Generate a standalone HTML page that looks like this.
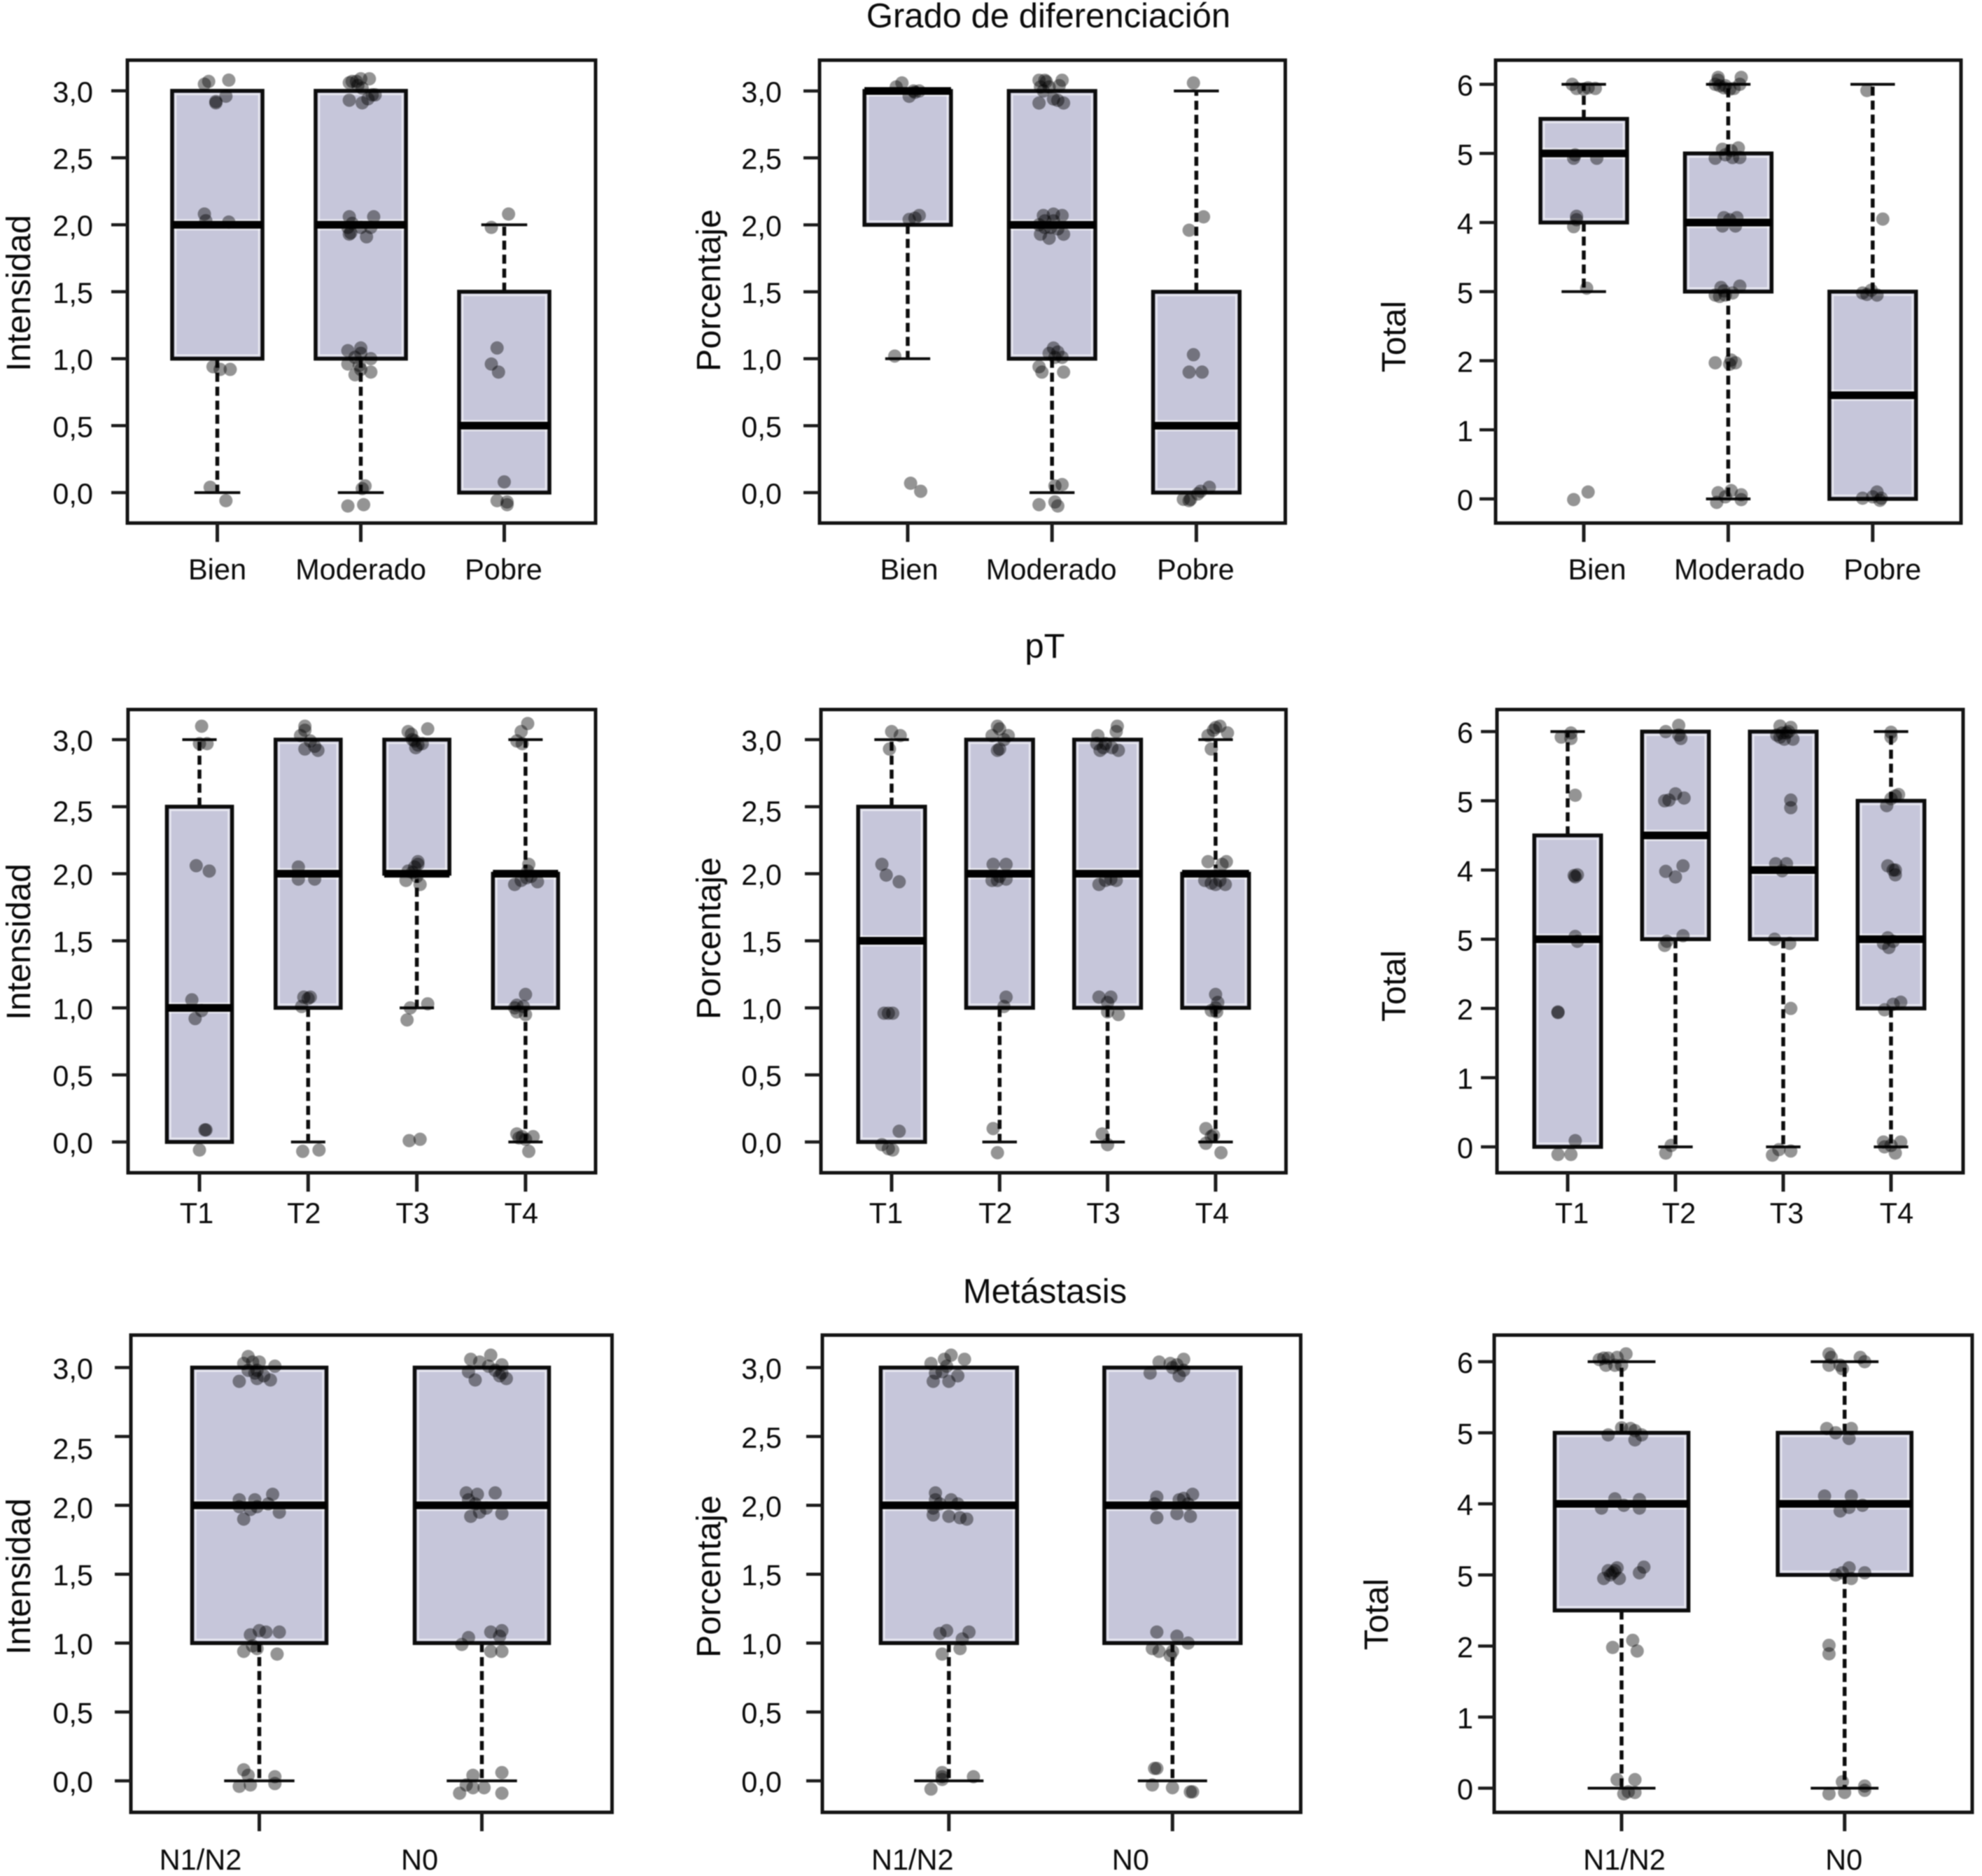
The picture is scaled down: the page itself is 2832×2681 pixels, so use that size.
<!DOCTYPE html>
<html lang="es">
<head>
<meta charset="utf-8">
<title>Grado de diferenciación, pT y Metástasis</title>
<style>
html,body{margin:0;padding:0;background:#fff;}
body{width:2832px;height:2681px;overflow:hidden;}
svg{display:block;filter:blur(0.9px);}
text{font-family:"Liberation Sans",sans-serif;fill:#0a0a0a;}
</style>
</head>
<body>
<svg id="fig" xmlns="http://www.w3.org/2000/svg" width="2832" height="2681" viewBox="0 0 2832 2681">
<rect x="0" y="0" width="2832" height="2681" fill="#fff"/>
<text x="1498" y="39" font-size="49" text-anchor="middle">Grado de diferenciación</text>
<text x="1493" y="940" font-size="49" text-anchor="middle">pT</text>
<text x="1493" y="1862" font-size="49" text-anchor="middle">Metástasis</text>
</svg>
<script>
// ---- shared axis data ----
const ticks3 = [0, 0.5, 1, 1.5, 2, 2.5, 3];
const tickLabels3 = ["0,0", "0,5", "1,0", "1,5", "2,0", "2,5", "3,0"];
const ticks6 = [0, 1, 2, 3, 4, 5, 6];
const tickLabels6 = ["0", "1", "2", "5", "4", "5", "6"];
const gradoCategories = ["Bien", "Moderado", "Pobre"];
const ptCategories = ["T1", "T2", "T3", "T4"];
const metaCategories = ["N1/N2", "N0"];

// ---- Grado / Intensidad ----
const gi_q1 = [1, 1, 0];
const gi_med = [2, 2, 0.5];
const gi_q3 = [3, 3, 1.5];
const gi_lo = [0, 0, 0];
const gi_hi = [3, 3, 2];
const gi_pts = [[0,-.06,3.07],[0,-.09,3.05],[0,.08,3.08],[0,.06,2.96],[0,-.01,2.92],[0,-.01,2.91],[0,-.09,2.08],[0,-.08,2.03],[0,.08,2.02],[0,-.03,.94],[0,.02,.92],[0,.09,.92],[0,-.05,.04],[0,.06,-.06],
[1,-.08,3.06],[1,-.06,3.07],[1,-.03,3.07],[1,0,3.09],[1,-.02,3.04],[1,.06,3.09],[1,.01,3.02],[1,-.08,2.93],[1,.01,2.91],[1,.05,2.94],[1,.08,2.97],[1,.10,2.97],[1,-.08,2.06],[1,.09,2.06],[1,-.09,1.98],[1,-.06,2.01],[1,-.07,1.94],[1,-.08,1.93],[1,.04,1.91],[1,.07,1.98],[1,0,1.98],[1,-.09,1.06],[1,0,1.08],[1,0,1.04],[1,-.04,1.01],[1,.07,1.0],[1,-.09,.96],[1,-.01,.95],[1,-.04,.88],[1,.07,.90],[1,0,.92],[1,.03,.05],[1,.01,.03],[1,-.09,-.10],[1,.02,-.09],
[2,.03,2.08],[2,-.09,1.98],[2,-.05,1.08],[2,-.09,.96],[2,-.04,.90],[2,0,.08],[2,-.05,-.06],[2,.02,-.07],[2,.02,-.09]];

// ---- Grado / Porcentaje ----
const gp_q1 = [2, 1, 0];
const gp_med = [3, 2, 0.5];
const gp_q3 = [3, 3, 1.5];
const gp_lo = [1, 0, 0];
const gp_hi = [3, 3, 3];
const gp_pts = [[0,-.04,3.06],[0,-.08,3.03],[0,.01,2.96],[0,.08,3.0],[0,.04,3.0],[0,.05,2.99],[0,.08,2.07],[0,.05,2.05],[0,.01,2.04],[0,-.09,1.02],[0,.02,.07],[0,.09,.01],
[1,-.09,3.08],[1,-.05,3.08],[1,-.04,3.07],[1,.07,3.08],[1,-.08,3.03],[1,-.02,3.03],[1,.05,3.04],[1,-.09,2.91],[1,.01,2.94],[1,.04,2.93],[1,.08,2.91],[1,-.06,3.0],[1,-.06,2.07],[1,.01,2.08],[1,.07,2.07],[1,-.09,2.0],[1,-.05,1.98],[1,-.01,1.98],[1,.04,1.97],[1,.08,1.93],[1,-.08,1.93],[1,-.02,1.90],[1,-.05,2.03],[1,.01,2.03],[1,.01,1.08],[1,.04,1.05],[1,-.02,1.04],[1,.02,1.01],[1,.07,1.01],[1,-.09,.94],[1,-.07,.90],[1,.08,.90],[1,.02,.05],[1,.07,.06],[1,-.09,-.09],[1,.04,-.10],[1,.02,-.07],
[2,-.02,3.06],[2,.05,2.06],[2,-.05,1.96],[2,-.02,1.03],[2,-.05,.90],[2,.04,.90],[2,.09,.04],[2,.03,.01],[2,-.04,-.05],[2,-.09,-.05],[2,.01,-.01],[2,-.05,-.06]];

// ---- Grado / Total ----
const gt_q1 = [4, 3, 0];
const gt_med = [5, 4, 1.5];
const gt_q3 = [5.5, 5, 3];
const gt_lo = [3, 0, 0];
const gt_hi = [6, 6, 6];
const gt_pts = [[0,-.08,6.0],[0,-.05,5.94],[0,0,5.93],[0,.08,5.94],[0,.03,5.95],[0,-.06,4.98],[0,-.07,4.93],[0,.09,4.93],[0,-.05,4.09],[0,-.05,4.04],[0,-.07,3.94],[0,.02,3.05],[0,-.07,-.01],[0,.03,.10],
[1,-.07,6.1],[1,.09,6.1],[1,-.09,6],[1,-.06,5.98],[1,-.03,5.95],[1,.01,5.93],[1,.04,5.94],[1,.08,6],[1,-.07,6.06],[1,-.02,5.98],[1,-.04,5.06],[1,.07,5.08],[1,-.09,4.93],[1,.02,5.04],[1,.03,4.94],[1,.08,4.94],[1,-.02,4.98],[1,-.03,4.07],[1,.06,4.07],[1,-.04,3.95],[1,.05,3.95],[1,.01,4.04],[1,-.05,3.06],[1,.08,3.08],[1,-.06,2.93],[1,-.02,2.95],[1,.03,2.98],[1,-.09,2.95],[1,-.03,3.01],[1,-.09,1.97],[1,.02,2.01],[1,.05,1.97],[1,.01,1.95],[1,-.07,.09],[1,.02,.12],[1,.09,.06],[1,-.08,-.05],[1,-.02,.03],[1,.09,-.01],
[2,-.04,5.91],[2,.07,4.05],[2,-.07,2.98],[2,-.04,2.96],[2,.03,2.95],[2,-.01,3.02],[2,-.07,.01],[2,.03,.10],[2,.06,.01],[2,0,.03],[2,.05,-.02]];

// ---- pT / Intensidad ----
const ti_q1 = [0, 1, 2, 1];
const ti_med = [1, 2, 2, 2];
const ti_q3 = [2.5, 3, 3, 2];
const ti_lo = [0, 0, 1, 0];
const ti_hi = [3, 3, 3, 3];
const ti_pts = [[0,.02,3.10],[0,0,2.97],[0,.07,2.97],[0,-.03,2.06],[0,.09,2.02],[0,-.07,1.06],[0,-.04,.92],[0,.02,.98],[0,.05,.09],[0,.06,.09],[0,0,-.06],
[1,-.03,3.10],[1,-.03,3.07],[1,-.07,3.03],[1,-.03,2.93],[1,.09,2.92],[1,.06,2.95],[1,.02,2.99],[1,-.09,2.05],[1,-.09,1.96],[1,.06,1.96],[1,-.04,1.08],[1,.02,1.08],[1,-.06,1.01],[1,0,1.07],[1,-.05,-.07],[1,.10,-.06],
[2,-.08,3.06],[2,-.05,3.04],[2,.10,3.08],[2,-.04,3.0],[2,.01,2.96],[2,-.01,2.94],[2,.05,2.97],[2,-.02,2.99],[2,.01,2.09],[2,-.02,2.05],[2,-.08,2.02],[2,-.04,2.01],[2,-.10,1.95],[2,.03,1.92],[2,0,1.98],[2,.01,2.07],[2,.10,1.03],[2,-.06,1.0],[2,-.09,.91],[2,-.07,.01],[2,.03,.02],
[3,.02,3.12],[3,-.04,3.06],[3,-.08,2.99],[3,-.03,2.97],[3,.03,2.07],[3,.02,2.02],[3,-.10,1.92],[3,-.04,1.95],[3,.11,1.94],[3,.01,1.97],[3,.05,1.98],[3,0,1.10],[3,-.08,1.02],[3,-.02,1.01],[3,-.08,.97],[3,0,.95],[3,-.10,1.0],[3,-.08,.06],[3,-.03,.04],[3,.07,.04],[3,0,.02],[3,.03,-.07],[3,-.06,.03]];

// ---- pT / Porcentaje ----
const tp_q1 = [0, 1, 1, 1];
const tp_med = [1.5, 2, 2, 2];
const tp_q3 = [2.5, 3, 3, 2];
const tp_lo = [0, 0, 0, 0];
const tp_hi = [3, 3, 3, 3];
const tp_pts = [[0,0,3.06],[0,.08,3.03],[0,-.02,2.93],[0,-.09,2.07],[0,-.05,1.99],[0,.07,1.94],[0,-.07,.96],[0,.01,.96],[0,-.03,.96],[0,.07,.08],[0,-.09,-.02],[0,-.03,-.05],[0,.01,-.06],
[1,-.02,3.10],[1,0,3.08],[1,-.07,3.03],[1,.08,3.03],[1,.04,3.0],[1,-.02,2.92],[1,0,2.93],[1,-.06,2.07],[1,.06,2.07],[1,-.07,1.95],[1,-.02,1.95],[1,.06,1.96],[1,0,1.98],[1,.06,1.08],[1,.04,1.01],[1,-.06,.10],[1,-.02,-.08],
[2,.09,3.10],[2,.08,3.06],[2,-.09,3.03],[2,-.10,2.97],[2,-.04,2.94],[2,-.07,2.92],[2,.04,2.94],[2,.10,2.92],[2,-.02,2.97],[2,-.08,1.92],[2,-.02,1.95],[2,.08,1.95],[2,.03,1.96],[2,-.08,1.08],[2,.03,1.08],[2,0,1.04],[2,.10,.95],[2,0,.97],[2,-.05,.06],[2,0,-.02],
[3,0,3.09],[3,.04,3.10],[3,-.02,3.07],[3,.11,3.05],[3,-.04,2.93],[3,-.07,3.03],[3,-.07,2.09],[3,.10,2.09],[3,.06,2.07],[3,-.10,1.95],[3,0,1.92],[3,.09,1.92],[3,-.04,1.93],[3,.04,1.95],[3,0,1.10],[3,.02,1.04],[3,0,1.0],[3,-.04,.98],[3,.01,.97],[3,-.09,.10],[3,-.04,.04],[3,-.09,-.01],[3,-.02,.05],[3,.05,-.08]];

// ---- pT / Total ----
const tt_q1 = [0, 3, 3, 2];
const tt_med = [3, 4.5, 4, 3];
const tt_q3 = [4.5, 6, 6, 5];
const tt_lo = [0, 0, 0, 0];
const tt_hi = [6, 6, 6, 6];
const tt_pts = [[0,.03,5.98],[0,-.06,5.92],[0,.03,5.90],[0,.07,5.08],[0,.06,3.92],[0,.09,3.93],[0,.07,3.90],[0,.07,3.04],[0,.09,2.97],[0,-.09,1.94],[0,-.09,1.95],[0,.07,.09],[0,-.09,-.11],[0,.03,-.11],
[1,.03,6.09],[1,-.09,6.0],[1,.03,5.95],[1,.05,5.90],[1,-.10,5.0],[1,-.06,5.01],[1,0,5.10],[1,.08,5.04],[1,-.09,3.98],[1,0,3.90],[1,.07,4.06],[1,-.10,2.91],[1,-.08,2.97],[1,.07,3.05],[1,-.04,.02],[1,-.09,-.09],
[2,-.03,6.08],[2,.07,6.06],[2,-.06,5.95],[2,.01,5.89],[2,.09,5.89],[2,.03,5.98],[2,-.01,5.98],[2,.05,6.0],[2,-.03,5.92],[2,.07,5.01],[2,.07,4.90],[2,-.07,4.09],[2,.03,4.09],[2,-.01,3.99],[2,-.08,3.0],[2,.06,2.94],[2,.07,2.0],[2,-.10,-.12],[2,.07,-.06],[2,-.04,-.04],
[3,0,5.99],[3,0,5.92],[3,.07,5.09],[3,.04,5.07],[3,0,5.03],[3,-.04,4.93],[3,-.03,4.06],[3,.02,4.0],[3,.04,3.93],[3,.04,4.0],[3,-.03,3.02],[3,-.07,2.94],[3,-.02,2.88],[3,.02,2.97],[3,.09,2.09],[3,.02,2.06],[3,-.06,1.98],[3,-.07,.07],[3,.09,.07],[3,0,.02],[3,.04,-.09],[3,-.06,0]];

// ---- Metástasis / Intensidad ----
const mi_q1 = [1, 1];
const mi_med = [2, 2];
const mi_q3 = [3, 3];
const mi_lo = [0, 0];
const mi_hi = [3, 3];
const mi_pts = [[0,-.05,3.08],[0,-.03,3.04],[0,0,3.04],[0,-.07,3.03],[0,.07,3.01],[0,-.02,2.96],[0,.02,2.94],[0,-.09,2.90],[0,-.01,2.92],[0,.05,2.91],[0,-.05,2.98],[0,-.01,2.98],[0,-.09,2.04],[0,-.02,2.04],[0,.06,2.08],[0,-.09,1.99],[0,-.04,1.97],[0,-.07,1.90],[0,.09,1.95],[0,.04,2.01],[0,-.01,1.99],[0,0,1.09],[0,-.04,1.06],[0,.03,1.08],[0,.09,1.08],[0,-.03,.98],[0,-.07,.94],[0,.08,.92],[0,-.01,.96],[0,-.07,.08],[0,-.05,.04],[0,.07,.03],[0,-.09,-.04],[0,-.04,-.03],[0,.07,-.02],
[1,.04,3.09],[1,-.05,3.06],[1,-.01,3.04],[1,.09,3.02],[1,.03,3.01],[1,-.06,2.97],[1,-.03,2.91],[1,.06,2.98],[1,.08,2.94],[1,.11,2.92],[1,.09,2.96],[1,-.07,2.09],[1,-.02,2.08],[1,.06,2.09],[1,-.06,2.04],[1,-.05,1.92],[1,-.01,1.95],[1,.09,1.94],[1,-.03,2.01],[1,.02,1.98],[1,.09,1.09],[1,.04,1.08],[1,-.06,1.04],[1,.08,1.05],[1,-.09,.99],[1,.04,.94],[1,.09,.94],[1,.09,.06],[1,-.04,.04],[1,-.07,-.03],[1,-.04,-.05],[1,.01,-.05],[1,-.10,-.09],[1,.09,-.09]];

// ---- Metástasis / Porcentaje ----
const mp_q1 = [1, 1];
const mp_med = [2, 2];
const mp_q3 = [3, 3];
const mp_lo = [0, 0];
const mp_hi = [3, 3];
const mp_pts = [[0,.01,3.09],[0,.07,3.06],[0,-.02,3.06],[0,-.08,3.03],[0,-.01,3.01],[0,-.06,2.96],[0,-.07,2.90],[0,0,2.90],[0,.04,2.94],[0,-.03,2.97],[0,-.06,2.09],[0,-.06,2.04],[0,.01,2.04],[0,-.07,1.98],[0,-.07,1.93],[0,0,1.92],[0,.05,1.91],[0,.08,1.90],[0,.04,2.01],[0,-.04,2.01],[0,-.01,1.09],[0,-.04,1.07],[0,.09,1.08],[0,.06,1.03],[0,-.03,.92],[0,.05,.96],[0,-.03,.06],[0,-.03,.03],[0,-.03,.01],[0,.11,.03],[0,-.08,-.06],
[1,.05,3.06],[1,-.06,3.04],[1,-.01,3.03],[1,.02,3.02],[1,-.10,2.96],[1,0,3.0],[1,.03,2.94],[1,.05,2.98],[1,-.07,2.06],[1,.09,2.08],[1,.05,2.05],[1,.03,2.04],[1,.07,2.01],[1,-.07,1.91],[1,.02,1.94],[1,.08,1.92],[1,-.08,2.01],[1,-.07,1.08],[1,.02,1.05],[1,.07,1.0],[1,-.09,.96],[1,-.06,.94],[1,-.01,.91],[1,0,.94],[1,-.08,.09],[1,-.09,-.03],[1,0,-.05],[1,.08,-.08],[1,.09,-.08],[1,-.07,.09]];

// ---- Metástasis / Total ----
const mt_q1 = [2.5, 3];
const mt_med = [4, 4];
const mt_q3 = [5, 5];
const mt_lo = [0, 0];
const mt_hi = [6, 6];
const mt_pts = [[0,.02,6.11],[0,-.08,6.05],[0,-.06,6.05],[0,-.02,6.06],[0,-.07,5.95],[0,-.03,5.95],[0,0,5.95],[0,-.10,6.03],[0,-.06,4.97],[0,0,5.07],[0,.06,5.03],[0,.09,4.97],[0,.06,4.90],[0,.04,5.06],[0,-.03,4.07],[0,-.09,3.94],[0,.01,3.98],[0,.08,3.94],[0,.08,4.06],[0,-.02,3.10],[0,-.06,3.06],[0,-.04,3.03],[0,-.08,2.95],[0,-.01,2.95],[0,.10,3.11],[0,.08,3.03],[0,-.03,3.06],[0,-.05,3.0],[0,.05,2.08],[0,-.04,1.98],[0,.07,1.93],[0,-.02,.12],[0,.06,.12],[0,.03,-.05],[0,.06,-.06],[0,.01,-.08],
[1,-.07,6.11],[1,-.06,6.06],[1,.07,6.06],[1,-.07,5.95],[1,-.02,5.95],[1,-.01,5.90],[1,.09,6.0],[1,-.08,5.06],[1,.03,5.06],[1,-.04,5.0],[1,.02,4.92],[1,-.09,4.11],[1,.03,4.11],[1,-.02,3.90],[1,.08,3.98],[1,.02,3.95],[1,.02,3.10],[1,-.04,3.0],[1,.09,3.03],[1,.03,2.95],[1,-.01,3.03],[1,-.07,2.01],[1,-.07,1.89],[1,-.01,.09],[1,.09,.03],[1,-.07,-.08],[1,0,-.06],[1,.09,-.03]];

// ---- layout (pixels), kept apart from the data ----
const panels = [
  {id:"grado-intensidad", title:"Intensidad", cats:gradoCategories, tv:ticks3, tl:tickLabels3, yMax:3, frame:[182,86,851,747.5], x0:310.5, step:205, yTop:129.8, yZero:704, boxHalf:.315, capHalf:.16, q1:gi_q1, med:gi_med, q3:gi_q3, lo:gi_lo, hi:gi_hi, pts:gi_pts, labelRight:133, titleX:43, titleY:419, xBase:828, labelDx:[0,0,-1], nudge:{}},
  {id:"grado-porcentaje", title:"Porcentaje", cats:gradoCategories, tv:ticks3, tl:tickLabels3, yMax:3, frame:[1171,86,1836.5,747.5], x0:1297, step:206.2, yTop:130, yZero:704, boxHalf:.30, capHalf:.156, q1:gp_q1, med:gp_med, q3:gp_q3, lo:gp_lo, hi:gp_hi, pts:gp_pts, labelRight:1117, titleX:1029, titleY:415, xBase:828, labelDx:[2,-1,-1], nudge:{}},
  {id:"grado-total", title:"Total", cats:gradoCategories, tv:ticks6, tl:tickLabels6, yMax:6, frame:[2137,86,2802,747.5], x0:2263, step:206.4, yTop:120.5, yZero:713, boxHalf:.30, capHalf:.154, q1:gt_q1, med:gt_med, q3:gt_q3, lo:gt_lo, hi:gt_hi, pts:gt_pts, labelRight:2105, titleX:2008, titleY:481, xBase:828, labelDx:[19,16,14], nudge:{}},
  {id:"pt-intensidad", title:"Intensidad", cats:ptCategories, tv:ticks3, tl:tickLabels3, yMax:3, frame:[183,1014,851,1676], x0:285, step:155.3, yTop:1057, yZero:1632, boxHalf:.30, capHalf:.158, q1:ti_q1, med:ti_med, q3:ti_q3, lo:ti_lo, hi:ti_hi, pts:ti_pts, labelRight:133, titleX:43, titleY:1346, xBase:1748, labelDx:[-4,-6,-6,-6], nudge:{"2.5":5}},
  {id:"pt-porcentaje", title:"Porcentaje", cats:ptCategories, tv:ticks3, tl:tickLabels3, yMax:3, frame:[1173,1014,1837.5,1676], x0:1274, step:154.3, yTop:1057, yZero:1632, boxHalf:.31, capHalf:.16, q1:tp_q1, med:tp_med, q3:tp_q3, lo:tp_lo, hi:tp_hi, pts:tp_pts, labelRight:1117, titleX:1029, titleY:1341, xBase:1748, labelDx:[-8,-6,-6,-5], nudge:{"2.5":5}},
  {id:"pt-total", title:"Total", cats:ptCategories, tv:ticks6, tl:tickLabels6, yMax:6, frame:[2139,1014,2805,1676], x0:2240, step:154, yTop:1045.5, yZero:1639, boxHalf:.31, capHalf:.16, q1:tt_q1, med:tt_med, q3:tt_q3, lo:tt_lo, hi:tt_hi, pts:tt_pts, labelRight:2105, titleX:2008, titleY:1409, xBase:1748, labelDx:[6,5,5,8], nudge:{}},
  {id:"metastasis-intensidad", title:"Intensidad", cats:metaCategories, tv:ticks3, tl:tickLabels3, yMax:3, frame:[187,1908,874.5,2590], x0:370.5, step:318, yTop:1954.4, yZero:2545, boxHalf:.302, capHalf:.158, q1:mi_q1, med:mi_med, q3:mi_q3, lo:mi_lo, hi:mi_hi, pts:mi_pts, labelRight:133, titleX:43, titleY:2253, xBase:2672, labelDx:[-84,-89], nudge:{"2.5":16,"2":2}},
  {id:"metastasis-porcentaje", title:"Porcentaje", cats:metaCategories, tv:ticks3, tl:tickLabels3, yMax:3, frame:[1175,1908,1858.5,2590], x0:1355.8, step:319.5, yTop:1954.4, yZero:2545, boxHalf:.305, capHalf:.155, q1:mp_q1, med:mp_med, q3:mp_q3, lo:mp_lo, hi:mp_hi, pts:mp_pts, labelRight:1117, titleX:1029, titleY:2253, xBase:2672, labelDx:[-52,-60], nudge:{}},
  {id:"metastasis-total", title:"Total", cats:metaCategories, tv:ticks6, tl:tickLabels6, yMax:6, frame:[2135,1908,2818,2590], x0:2317, step:318.7, yTop:1946, yZero:2555.5, boxHalf:.30, capHalf:.152, q1:mt_q1, med:mt_med, q3:mt_q3, lo:mt_lo, hi:mt_hi, pts:mt_pts, labelRight:2105, titleX:1983, titleY:2307, xBase:2672, labelDx:[4,-1], nudge:{}}
];

const NS = "http://www.w3.org/2000/svg";
const fig = document.getElementById("fig");
const INK = "#0c0c0c";

function mk(tag, attrs, parent) {
  const el = document.createElementNS(NS, tag);
  for (const k in attrs) el.setAttribute(k, attrs[k]);
  parent.appendChild(el);
  return el;
}

function drawPanel(p) {
  const xAt = function (pos) { return p.x0 + pos * p.step; };
  const yAt = function (v) { return p.yZero - v * (p.yZero - p.yTop) / p.yMax; };
  const g = mk("g", {}, fig);
  
  

  const frame = mk("rect", {x:p.frame[0], y:p.frame[1], width:p.frame[2]-p.frame[0], height:p.frame[3]-p.frame[1], fill:"#fff", stroke:"#141414", "stroke-width":5}, g);
  
  

  // y axis
  p.tv.forEach(function (v, i) {
    const y = yAt(v);
    const tick = mk("line", {x1:p.frame[0]-23, x2:p.frame[0], y1:y, y2:y, stroke:"#1c1c1c", "stroke-width":4.5}, g);
    
    
    const extra = p.nudge[String(v)] || 0;
    const label = mk("text", {x:p.labelRight, y:y + 16 + extra, "font-size":41.5, "text-anchor":"end"}, g);
    label.textContent = p.tl[i];
    
    
  });

  const yTitle = mk("text", {x:p.titleX, y:p.titleY, "font-size":48.5, "text-anchor":"middle", transform:"rotate(-90 " + p.titleX + " " + p.titleY + ")"}, g);
  yTitle.textContent = p.title;
  
  

  // x axis
  p.cats.forEach(function (c, i) {
    const x = xAt(i);
    const tick = mk("line", {x1:x, x2:x, y1:p.frame[3], y2:p.frame[3]+27, stroke:"#1c1c1c", "stroke-width":5}, g);
    
    
    const label = mk("text", {x:x + p.labelDx[i], y:p.xBase, "font-size":41.5, "text-anchor":"middle"}, g);
    label.textContent = c;
    
    
  });

  // boxes
  p.cats.forEach(function (c, i) {
    const cx = xAt(i);
    const left = xAt(i - p.boxHalf);
    const right = xAt(i + p.boxHalf);
    const capL = xAt(i - p.capHalf);
    const capR = xAt(i + p.capHalf);
    const top = yAt(p.q3[i]);
    const bottom = yAt(p.q1[i]);
    const medY = yAt(p.med[i]);
    const bg = mk("g", {}, g);
    
    

    [[p.hi[i], top], [p.lo[i], bottom]].forEach(function (w) {
      const wy = yAt(w[0]);
      if (Math.abs(wy - w[1]) > 0.5) {
        const whisker = mk("line", {x1:cx, x2:cx, y1:w[1], y2:wy, stroke:INK, "stroke-width":5.5, "stroke-dasharray":"13 7"}, bg);
        
        
      }
      const cap = mk("line", {x1:capL, x2:capR, y1:wy, y2:wy, stroke:INK, "stroke-width":4}, bg);
      
      
    });

    const rect = mk("rect", {x:left, y:top, width:right-left, height:bottom-top, fill:"#c6c6da"}, bg);
    
    
    const halo = mk("rect", {x:left+5, y:top+5, width:right-left-10, height:bottom-top-10, fill:"none", stroke:"#fff", "stroke-opacity":.6, "stroke-width":2.5}, bg);
    
    
    const medHalo = mk("line", {x1:left, x2:right, y1:medY, y2:medY, stroke:"#fff", "stroke-opacity":.6, "stroke-width":16}, bg);
    
    
    const outline = mk("rect", {x:left, y:top, width:right-left, height:bottom-top, fill:"none", stroke:INK, "stroke-width":5.5}, bg);
    
    
    const median = mk("line", {x1:left, x2:right, y1:medY, y2:medY, stroke:"#000", "stroke-width":11}, bg);
    
    
  });

  // jittered points
  p.pts.forEach(function (pt) {
    const dot = mk("circle", {cx:xAt(pt[0] + pt[1]), cy:yAt(pt[2]), r:9.5, fill:"#000", "fill-opacity":.42}, g);
    
    
  });
}

panels.forEach(drawPanel);
</script>
</body>
</html>
